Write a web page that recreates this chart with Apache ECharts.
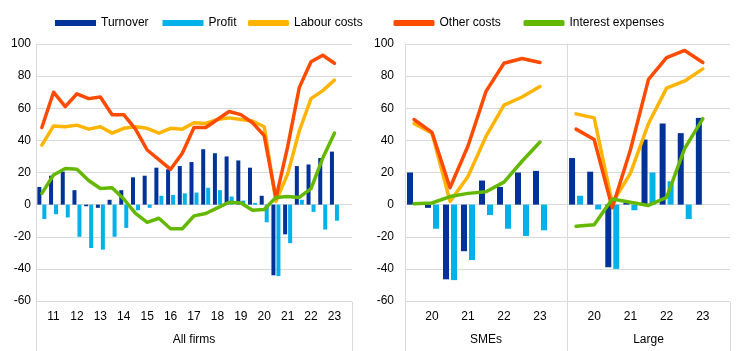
<!DOCTYPE html>
<html>
<head>
<meta charset="utf-8">
<script src="https://cdn.jsdelivr.net/npm/echarts@6/dist/echarts.min.js"></script>
<style>
html,body{margin:0;padding:0;background:#fff;}
#chart{width:744px;height:351px;}
</style>
</head>
<body>
<div id="chart"></div>
<script>
// ---------- DATA ----------
// All firms: semi-annual periods 2010H2 .. 2023H2 (last period empty)
const periodsAll = ['10H2','11H1','11H2','12H1','12H2','13H1','13H2','14H1','14H2','15H1','15H2','16H1','16H2',
  '17H1','17H2','18H1','18H2','19H1','19H2','20H1','20H2','21H1','21H2','22H1','22H2','23H1','23H2'];
const periodsSize = ['19H2','20H1','20H2','21H1','21H2','22H1','22H2','23H1','23H2'];

const turnoverAll = [11, 18, 20.5, 9, -1, -2, 3, 9, 17, 18, 23, 22, 24, 26.5, 34.5, 32, 30, 27.5, 23, 5.5, -44, -18.5, 24, 25, 29, 33, null];
const profitAll   = [-9, -6, -8, -20, -27, -28, -20, -14.5, -3.5, -2, 5.5, 6, 7, 7.5, 10.5, 9, 5, 2.5, 1, -11, -44.5, -24, 3, -4.5, -15.5, -10, null];
const labourAll   = [37, 49, 48.5, 49.5, 47, 48.5, 44.5, 47.5, 48.5, 47.5, 44.5, 47.5, 47, 51, 50.5, 53, 54, 53, 52, 48.5, 2, 19, 46, 66, 71, 77.5, null];
const otherAll    = [48, 70, 61, 69, 66, 67, 56, 56, 47, 34, 28, 22, 32, 48, 48, 53, 58, 56, 51, 43, 4, 36, 73, 89, 93, 88, null];
const interestAll = [7, 18.5, 22.5, 22, 15, 10, 10.5, 3.5, -5.5, -11, -8.5, -15, -15, -7, -5.5, -2, 1.5, 1, -3.5, -3, 4.5, 5, 4.5, 10, 29, 44.5, null];

const turnoverSME = [20, -2, -46.5, -29, 15, 11, 20, 21, null];
const profitSME   = [0, -15, -47, -34.5, -6.5, -15, -19.5, -16, null];
const labourSME   = [50.5, 44.5, 2, 17.5, 42.5, 62, 67, 73.5, null];
const otherSME    = [53, 45, 10.5, 36.5, 70.5, 88, 91, 88.5, null];
const interestSME = [0.5, 1, 5, 7, 8, 14, 27, 39, null];

const turnoverLarge = [29, 20.5, -39, 1, 40.5, 50.5, 44.5, 54, null];
const profitLarge   = [5.5, -3, -40, -3.5, 20, 14.5, -9, 0, null];
const labourLarge   = [56.5, 54, 1, 19.5, 50.5, 72.5, 77, 84.5, null];
const otherLarge    = [47, 40.5, -2, 34, 78, 91.5, 96, 88.5, null];
const interestLarge = [-13.5, -12.5, 3.5, 1.5, -0.5, 4.5, 35, 53.5, null];

const panelNames = ['All firms', 'SMEs', 'Large'];
const seriesNames = ['Turnover', 'Profit', 'Labour costs', 'Other costs', 'Interest expenses'];
const yTicks = {min: -60, max: 100, interval: 20};

// ---------- STYLE ----------
const COLORS = {'Turnover':'#003299','Profit':'#00B1EA','Labour costs':'#FFB400','Other costs':'#FF4B00','Interest expenses':'#65B800'};
const FONT = 'Liberation Sans, Arial, sans-serif';
const GRIDC = '#d9d9d9';
const TOP = 44, PH = 257.7;
const grids = [
  {left: 36, top: TOP, width: 316, height: PH},
  {left: 405, top: TOP, width: 162, height: PH},
  {left: 567, top: TOP, width: 163, height: PH}
];
const barW = [4, 6, 6];
const barGap = ['25%', '33%', '33%'];

function yearLabel(v){ return v.slice(2) === 'H1' ? v.slice(0,2) : ''; }

const xAxes = grids.map((g, i) => ({
  type: 'category', gridIndex: i, data: i === 0 ? periodsAll : periodsSize,
  boundaryGap: true,
  axisLine: {show: false}, axisTick: {show: false},
  axisLabel: {interval: 0, formatter: yearLabel, margin: 10, fontSize: 12, color: '#000', fontFamily: FONT},
  name: panelNames[i], nameLocation: 'middle', nameGap: 33,
  nameTextStyle: {fontSize: 12, color: '#000', fontFamily: FONT}
}));
const yAxes = grids.map((g, i) => ({
  type: 'value', gridIndex: i, min: yTicks.min, max: yTicks.max, interval: yTicks.interval,
  axisLine: {show: true, lineStyle: {color: GRIDC}},
  axisTick: {show: false},
  axisLabel: {show: i !== 2, margin: i === 0 ? 5 : 11, fontSize: 12, color: '#000', fontFamily: FONT},
  splitLine: {show: true, lineStyle: {color: GRIDC, width: 1}}
}));

const panelData = [
  [turnoverAll, profitAll, labourAll, otherAll, interestAll],
  [turnoverSME, profitSME, labourSME, otherSME, interestSME],
  [turnoverLarge, profitLarge, labourLarge, otherLarge, interestLarge]
];
const series = [];
panelData.forEach((arrs, p) => {
  arrs.forEach((arr, k) => {
    const name = seriesNames[k];
    if (k < 2) {
      series.push({type: 'bar', name, xAxisIndex: p, yAxisIndex: p, data: arr,
        barWidth: barW[p], barGap: barGap[p], itemStyle: {color: COLORS[name]}, z: 2, silent: true});
    } else {
      series.push({type: 'line', name, xAxisIndex: p, yAxisIndex: p, data: arr,
        symbol: 'none', connectNulls: false, z: 3 + k,
        lineStyle: {color: COLORS[name], width: 3.5, cap: 'round', join: 'round'},
        itemStyle: {color: COLORS[name]}, silent: true});
    }
  });
});

const legendPos = [55, 162.5, 248, 393.5, 523.5];
const legends = seriesNames.map((n, i) => ({
  left: legendPos[i], top: 17, padding: 0, itemWidth: 41, itemHeight: 6,
  data: [{name: n, icon: i < 2 ? 'rect' : 'roundRect'}],
  textStyle: {fontSize: 12, color: '#000', fontFamily: FONT}, selectedMode: false
}));

// category-group separator lines below the plots
const bottomY = TOP + PH;
const sepX = [36, 352, 405, 567, 730];
const graphics = sepX.map(x => ({
  type: 'line', silent: true,
  shape: {x1: x + 0.5, y1: bottomY, x2: x + 0.5, y2: 351},
  style: {stroke: GRIDC, lineWidth: 1}
}));

const chart = echarts.init(document.getElementById('chart'), null, {renderer: 'canvas'});
chart.setOption({
  animation: false,
  backgroundColor: '#fff',
  textStyle: {fontFamily: FONT},
  legend: legends,
  grid: grids,
  xAxis: xAxes,
  yAxis: yAxes,
  series: series,
  graphic: graphics
});
</script>
</body>
</html>
